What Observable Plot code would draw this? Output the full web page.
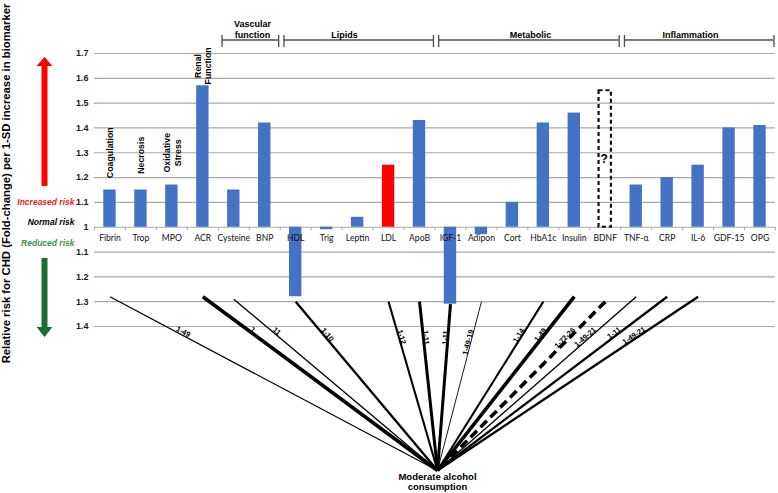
<!DOCTYPE html>
<html>
<head>
<meta charset="utf-8">
<script src="https://cdn.jsdelivr.net/npm/d3@7"></script>
<script src="https://cdn.jsdelivr.net/npm/@observablehq/plot@0.6"></script>
<style>
  html, body { margin: 0; padding: 0; background: #ffffff; }
  #chart svg { display: block; }
</style>
</head>
<body>
<div id="chart"></div>
<script>
// ================= DATA =================
const biomarkers = ["Fibrin","Trop","MPO","ACR","Cysteine","BNP","HDL","Trig","Leptin","LDL","ApoB","IGF-1","Adipon","Cort","HbA1c","Insulin","BDNF","TNF-α","CRP","IL-6","GDF-15","OPG"];
const foldChange = [1.15,1.15,1.17,1.57,1.15,1.42,1.28,1.01,1.04,1.25,1.43,1.31,1.03,1.10,1.42,1.46,1.55,1.17,1.20,1.25,1.40,1.41];
const riskDirection = ["increased","increased","increased","increased","increased","increased","reduced","reduced","increased","increased","increased","reduced","reduced","increased","increased","increased","increased","increased","increased","increased","increased","increased"];
const highlightedBiomarkers = ["LDL"];
const uncertainBiomarkers = ["BDNF"];

const yTickFolds = [1.4,1.3,1.2,1.1,1,1.1,1.2,1.3,1.4,1.5,1.6,1.7];
const yTickSides = ["reduced","reduced","reduced","reduced","normal","increased","increased","increased","increased","increased","increased","increased"];
const yTickLabels = ["1.4","1.3","1.2","1.1","1","1.1","1.2","1.3","1.4","1.5","1.6","1.7"];

const noteBiomarkers = ["Fibrin","Trop","MPO","ACR"];
const noteTexts = ["Coagulation","Necrosis","Oxidative\nStress","Renal\nFunction"];

const groupNames = ["Vascular\nfunction","Lipids","Metabolic","Inflammation"];
const groupFirst = ["Cysteine","HDL","IGF-1","TNF-α"];
const groupLast = ["BNP","ApoB","BDNF","OPG"];

const linkBiomarkers = ["Fibrin","ACR","Cysteine","HDL","LDL","ApoB","IGF-1","Adipon","HbA1c","Insulin","BDNF","TNF-α","CRP","IL-6"];
const linkLabels = ["1-49","1","11","1-10","1-12","1-11","1-11","1-49-19","1-14","1-49","1-72-26","1-49-21","1-11","1-49-21"];
const linkTopFold = [1.28,1.28,1.29,1.30,1.30,1.30,1.31,1.30,1.30,1.28,1.30,1.28,1.28,1.28];

const exposureLabel = "Moderate alcohol\nconsumption";
const riskLabels = ["Increased risk","Normal risk","Reduced risk"];
const yAxisTitle = "Relative risk for CHD (Fold-change) per 1-SD increase in biomarker";

// ================= LAYOUT & STYLE =================
const W = 778, H = 493;
const M = {top: 53, right: 3, bottom: 167, left: 94};
const xDomain = [-0.5, biomarkers.length - 0.5];
const yDomain = [-0.4, 0.7];
const pxPerX = (W - M.left - M.right) / (xDomain[1] - xDomain[0]);
const pxPerY = (H - M.top - M.bottom) / (yDomain[1] - yDomain[0]);
const xOfPx = px => xDomain[0] + (px - M.left) / pxPerX;
const yOfPx = py => yDomain[1] - (py - M.top) / pxPerY;
const xPx = x => M.left + (x - xDomain[0]) * pxPerX;
const yPx = y => M.top + (yDomain[1] - y) * pxPerY;

const barHalf = 0.2;
const BLUE = "#4472c4", RED = "#ff0000", GRID = "#a9a9a9";
const linkStrokeWidth = [1.3,3.6,1.3,2.3,2.1,3.0,3.0,0.9,2.1,3.6,3.6,1.4,2.3,2.3];
const noteCenterFold = [1.30,1.29,1.30,1.65];
const groupLabelPx = [252, 344, 530, 690];
const bracketPy = 39.5, bracketTick = [35, 47];
const hubPx = [437, 470];
const labelLevel = -0.42;
const riskNotePy = [202, 222, 243];
const riskNoteColors = ["#ee1c25", "#000000", "#2f9a45"];
const FONT = "'Liberation Sans', Arial, sans-serif";

// ================= DERIVED TABLES =================
const idx = b => biomarkers.indexOf(b);
const level = (fold, side) => side === "reduced" ? -(fold - 1) : side === "normal" ? 0 : (fold - 1);

const rows = biomarkers.map((b, i) => ({
  b, i, fold: foldChange[i], level: level(foldChange[i], riskDirection[i])
}));
const solidRows = rows.filter(d => !uncertainBiomarkers.includes(d.b));
const uncertainRows = rows.filter(d => uncertainBiomarkers.includes(d.b));

const yTicks = yTickFolds.map((f, k) => ({v: level(f, yTickSides[k]), label: yTickLabels[k]}));

const notes = noteBiomarkers.map((b, k) => ({x: idx(b), y: noteCenterFold[k] - 1, text: noteTexts[k]}));

const groups = groupNames.map((g, k) => ({
  name: g,
  x1: idx(groupFirst[k]) - 0.38,
  x2: idx(groupLast[k]) + 0.45,
  xl: xOfPx(groupLabelPx[k])
}));

const hub = {x: xOfPx(hubPx[0]), y: yOfPx(hubPx[1]), text: exposureLabel};

const links = linkBiomarkers.map((b, k) => {
  const x0 = idx(b), y0 = -(linkTopFold[k] - 1);
  const t = (labelLevel - y0) / (hub.y - y0);
  const lx = x0 + t * (hub.x - x0), ly = y0 + t * (hub.y - y0);
  let vx = xPx(hub.x) - xPx(x0), vy = yPx(hub.y) - yPx(y0);
  const left = vx > 0;
  if (vx < 0) { vx = -vx; vy = -vy; }
  const angle = Math.atan2(vy, vx) * 180 / Math.PI;
  return {b, x0, y0, label: linkLabels[k], w: linkStrokeWidth[k], dashed: uncertainBiomarkers.includes(b), lx, ly, angle, left};
});

// left-margin decorations (arrows) in pixel space converted to data units
const arrowX = 44;
const redShaft = {x: xOfPx(arrowX), y1: yOfPx(64), y2: yOfPx(186)};
const greenShaft = {x: xOfPx(arrowX), y1: yOfPx(258), y2: yOfPx(328)};
const tri = (cx, baseY, tipY, half) => [
  {x: xOfPx(cx - half), y: yOfPx(baseY)},
  {x: xOfPx(cx), y: yOfPx(tipY)},
  {x: xOfPx(cx + half), y: yOfPx(baseY)},
  {x: xOfPx(cx - half), y: yOfPx(baseY)}
];
const redHead = tri(arrowX, 65, 57, 7);
const greenHead = tri(arrowX, 327, 336, 7);

const riskNotes = riskLabels.map((t, k) => ({text: t, y: yOfPx(riskNotePy[k]), fill: riskNoteColors[k]}));

// ================= PLOT =================
const plot = Plot.plot({
  width: W, height: H,
  marginTop: M.top, marginRight: M.right, marginBottom: M.bottom, marginLeft: M.left,
  x: {type: "linear", domain: xDomain, axis: null},
  y: {type: "linear", domain: yDomain, axis: null},
  style: {fontFamily: FONT, background: "#ffffff", overflow: "visible"},
  marks: [
    // gridlines
    Plot.ruleY(yTicks, {y: "v", stroke: GRID, strokeWidth: 1.2}),
    Plot.ruleX(d3.range(biomarkers.length + 1).map(k => k - 0.5), {x: d => d, y1: 0, y2: -0.014, stroke: GRID}),
    // y tick labels
    Plot.text(yTicks, {x: () => xDomain[0], y: "v", text: "label", textAnchor: "end", dx: -6, fontSize: 9, fontWeight: "bold", fill: "#1a1a1a"}),
    // bars
    Plot.rect(solidRows, {
      x1: d => d.i - barHalf, x2: d => d.i + barHalf, y1: () => 0, y2: "level",
      fill: d => highlightedBiomarkers.includes(d.b) ? RED : BLUE
    }),
    Plot.rect(uncertainRows, {
      x1: d => d.i - barHalf, x2: d => d.i + barHalf, y1: () => 0, y2: "level",
      fill: "none", stroke: "#111111", strokeWidth: 2.2, strokeDasharray: "4,3"
    }),
    Plot.text(uncertainRows, {x: "i", y: d => d.level / 2, text: () => "?", fontSize: 12, fontWeight: "bold", dx: -1}),
    // category labels
    Plot.text(rows, {x: "i", y: () => 0, text: "b", dy: 11, fontSize: 8.6, fill: "#111111", fontFamily: "Lato, sans-serif"}),
    // rotated notes
    Plot.text(notes, {x: "x", y: "y", text: "text", rotate: -90, fontSize: 8.8, fontWeight: "bold", lineHeight: 1.2}),
    // group brackets
    Plot.ruleY(groups, {x1: "x1", x2: "x2", y: () => yOfPx(bracketPy), stroke: "#4d4d4d", strokeWidth: 1.3}),
    Plot.ruleX(groups, {x: "x1", y1: () => yOfPx(bracketTick[0]), y2: () => yOfPx(bracketTick[1]), stroke: "#4d4d4d", strokeWidth: 1.3}),
    Plot.ruleX(groups, {x: "x2", y1: () => yOfPx(bracketTick[0]), y2: () => yOfPx(bracketTick[1]), stroke: "#4d4d4d", strokeWidth: 1.3}),
    Plot.text(groups, {x: "xl", y: () => yOfPx(bracketPy), text: "name", lineAnchor: "bottom", dy: -2, fontSize: 9, fontWeight: "bold", lineHeight: 1.2}),
    // fan lines
    Plot.link(links.filter(d => !d.dashed), {x1: "x0", y1: "y0", x2: () => hub.x, y2: () => hub.y, stroke: "#000000", strokeWidth: "w"}),
    Plot.link(links.filter(d => d.dashed), {x1: "x0", y1: "y0", x2: () => hub.x, y2: () => hub.y, stroke: "#000000", strokeWidth: "w", strokeDasharray: "9,5"}),
    Plot.text(links.filter(d => d.left), {x: "lx", y: "ly", text: "label", rotate: "angle", textAnchor: "start", lineAnchor: "bottom", dy: -1, fontSize: 7.5, fontWeight: "bold"}),
    Plot.text(links.filter(d => !d.left), {x: "lx", y: "ly", text: "label", rotate: "angle", textAnchor: "end", lineAnchor: "bottom", dy: -1, fontSize: 7.5, fontWeight: "bold"}),
    // hub label
    Plot.text([hub], {x: "x", y: "y", text: "text", lineAnchor: "top", dy: 2, fontSize: 9.5, fontWeight: "bold", lineHeight: 1.05}),
    // left decorations
    Plot.ruleX([redShaft], {x: "x", y1: "y1", y2: "y2", stroke: RED, strokeWidth: 6}),
    Plot.line(redHead, {x: "x", y: "y", fill: RED, stroke: RED, strokeWidth: 1}),
    Plot.ruleX([greenShaft], {x: "x", y1: "y1", y2: "y2", stroke: "#1d6e2d", strokeWidth: 6}),
    Plot.line(greenHead, {x: "x", y: "y", fill: "#1d6e2d", stroke: "#1d6e2d", strokeWidth: 1}),
    Plot.text(riskNotes, {x: () => xDomain[0], y: "y", text: "text", fill: "fill", textAnchor: "end", dx: -20, fontSize: 8.5, fontWeight: "bold", fontStyle: "italic"}),
    Plot.text([yAxisTitle], {x: () => xOfPx(6), y: () => yOfPx(183), text: d => d, rotate: -90, fontSize: 11.3, fontWeight: "bold"})
  ]
});
document.getElementById("chart").appendChild(plot);
</script>
</body>
</html>
